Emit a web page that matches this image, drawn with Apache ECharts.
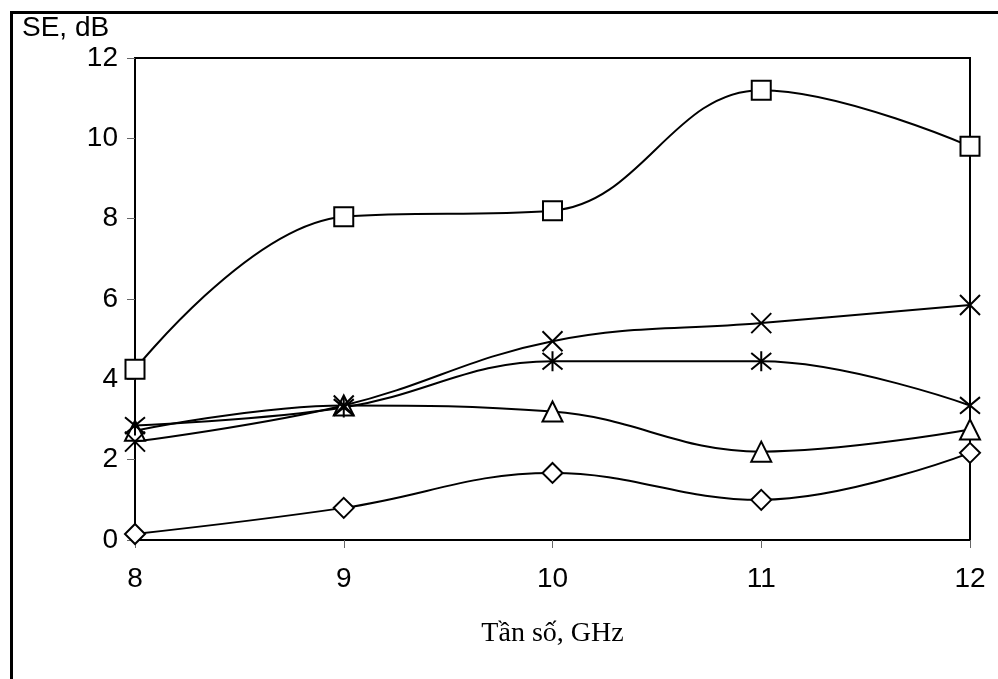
<!DOCTYPE html>
<html>
<head>
<meta charset="utf-8">
<script src="https://cdn.jsdelivr.net/npm/echarts@6/dist/echarts.min.js"></script>
<style>
  html, body { margin: 0; padding: 0; background: #fff; }
  #chart { width: 998px; height: 679px; }
</style>
</head>
<body>
<div id="chart"></div>
<script>
// tần số (GHz) và SE (dB)
var freqs = [8, 9, 10, 11, 12];
var seSquare   = [4.25, 8.05, 8.2, 11.2, 9.8];
var seCross    = [2.45, 3.35, 4.95, 5.4, 5.85];
var seStar     = [2.85, 3.3, 4.45, 4.45, 3.35];
var seTriangle = [2.72, 3.35, 3.2, 2.2, 2.75];
var seDiamond  = [0.15, 0.8, 1.67, 1.0, 2.17];
var yTicks = [0, 2, 4, 6, 8, 10, 12];

var SYM_X = 'path://M0,0L10,10M10,0L0,10';
var SYM_STAR = 'path://M0,0L10,10M10,0L0,10M5,-1L5,11';
var SYM_DIAMOND = 'path://M5,0L10,5L5,10L0,5Z';

function pairs(vals) {
    var out = [];
    for (var i = 0; i < freqs.length; i++) {
        out.push([freqs[i], vals[i]]);
    }
    return out;
}

function makeSeries(vals, symbol, size) {
    return {
        type: 'line',
        data: pairs(vals),
        smooth: 0.4,
        symbol: symbol,
        symbolSize: size,
        showAllSymbol: true,
        lineStyle: { color: '#000', width: 2 },
        itemStyle: { color: '#fff', borderColor: '#000', borderWidth: 2 },
        emphasis: { disabled: true },
        z: 3
    };
}

var myChart = echarts.init(document.getElementById('chart'));
var option = {
    animation: false,
    backgroundColor: '#fff',
    grid: {
        left: 135, right: 28, top: 58, bottom: 139,
        show: true, borderColor: '#000', borderWidth: 2
    },
    graphic: [
        {
            type: 'rect', left: 9, top: 10,
            shape: { width: 1100, height: 800 },
            style: { fill: 'none', stroke: '#000', lineWidth: 3 },
            z: 10
        },
        {
            type: 'text', left: 22, top: 14,
            style: { text: 'SE, dB', font: '28px "Liberation Sans", Arial', fill: '#000' }
        }
    ],
    xAxis: {
        type: 'value', min: 8, max: 12, interval: 1,
        name: 'Tần số, GHz', nameLocation: 'middle', nameGap: 80,
        nameTextStyle: { fontFamily: '"Liberation Serif", "Times New Roman"', fontSize: 28, color: '#000' },
        axisLine: { lineStyle: { color: '#000', width: 2 } },
        axisTick: { show: true, length: 8, lineStyle: { color: '#666', width: 1 } },
        axisLabel: { fontFamily: '"Liberation Sans", Arial', fontSize: 28, color: '#000', margin: 25 },
        splitLine: { show: false }
    },
    yAxis: {
        type: 'value', min: yTicks[0], max: yTicks[yTicks.length - 1], interval: 2,
        axisLine: { show: true, lineStyle: { color: '#000', width: 2 } },
        axisTick: { show: true, length: 8, lineStyle: { color: '#666', width: 1 } },
        axisLabel: { fontFamily: '"Liberation Sans", Arial', fontSize: 28, color: '#000', margin: 17 },
        splitLine: { show: false }
    },
    series: [
        makeSeries(seDiamond, SYM_DIAMOND, 20),
        makeSeries(seTriangle, 'triangle', 20),
        makeSeries(seStar, SYM_STAR, 20),
        makeSeries(seCross, SYM_X, 20),
        makeSeries(seSquare, 'rect', 19)
    ]
};
myChart.setOption(option);
</script>
</body>
</html>
